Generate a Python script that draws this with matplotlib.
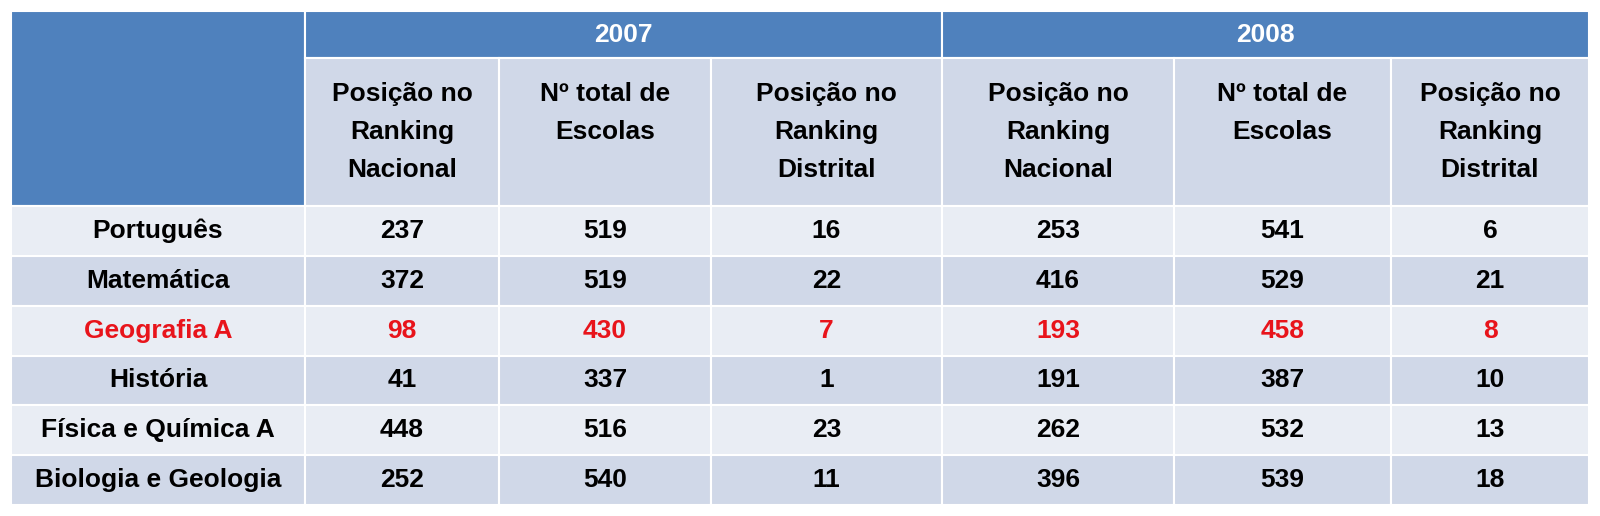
import matplotlib
matplotlib.use("Agg")
import matplotlib.pyplot as plt
from matplotlib.patches import Rectangle

YEARS = ["2007", "2008"]
COL_HEADERS = ["Posição no\nRanking\nNacional", "Nº total de\nEscolas\n ", "Posição no\nRanking\nDistrital"]
SUBJECTS = ["Português", "Matemática", "Geografia A", "História", "Física e Química A", "Biologia e Geologia"]
VALUES = [
    [237, 519, 16, 253, 541, 6],
    [372, 519, 22, 416, 529, 21],
    [98, 430, 7, 193, 458, 8],
    [41, 337, 1, 191, 387, 10],
    [448, 516, 23, 262, 532, 13],
    [252, 540, 11, 396, 539, 18],
]
HIGHLIGHT = "Geografia A"

BLUE = "#4F81BD"
DARK = "#D0D8E8"
LIGHT = "#E9EDF4"
FONT = "Liberation Sans"

# pixel grid
col_x = [11, 305, 499, 711, 942, 1174, 1391, 1589]
top, year_bot, head_bot, bottom = 11, 58, 206, 505
row_h = (bottom - head_bot) / len(SUBJECTS)

fig = plt.figure(figsize=(16, 5.16), dpi=100)
ax = fig.add_axes([0, 0, 1, 1])
ax.set_xlim(0, 1600)
ax.set_ylim(516, 0)
ax.axis("off")


def cell(x0, y0, x1, y1, color):
    ax.add_patch(Rectangle((x0, y0), x1 - x0, y1 - y0, facecolor=color, edgecolor="white", lw=1.5))


cell(col_x[0], top, col_x[1], head_bot, BLUE)
for k, year in enumerate(YEARS):
    x0, x1 = col_x[1 + 3 * k], col_x[4 + 3 * k]
    cell(x0, top, x1, year_bot, BLUE)
    ax.text((x0 + x1) / 2, (top + year_bot) / 2, year, color="white", fontsize=19,
            fontweight="bold", family=FONT, ha="center", va="center")
    for j, h in enumerate(COL_HEADERS):
        a, b = col_x[1 + 3 * k + j], col_x[2 + 3 * k + j]
        cell(a, year_bot, b, head_bot, DARK)
        ax.text((a + b) / 2, (year_bot + head_bot) / 2, h, fontsize=19, fontweight="bold",
                family=FONT, ha="center", va="center", linespacing=1.75)

for i, (subj, vals) in enumerate(zip(SUBJECTS, VALUES)):
    y0 = head_bot + i * row_h
    y1 = y0 + row_h
    bg = LIGHT if i % 2 == 0 else DARK
    color = "#E8141B" if subj == HIGHLIGHT else "black"
    cell(col_x[0], y0, col_x[1], y1, bg)
    ax.text((col_x[0] + col_x[1]) / 2, (y0 + y1) / 2, subj, fontsize=19, fontweight="bold",
            family=FONT, ha="center", va="center", color=color)
    for j, v in enumerate(vals):
        a, b = col_x[1 + j], col_x[2 + j]
        cell(a, y0, b, y1, bg)
        ax.text((a + b) / 2, (y0 + y1) / 2, str(v), fontsize=19, fontweight="bold",
                family=FONT, ha="center", va="center", color=color)

fig.savefig("out.png", dpi=100)
